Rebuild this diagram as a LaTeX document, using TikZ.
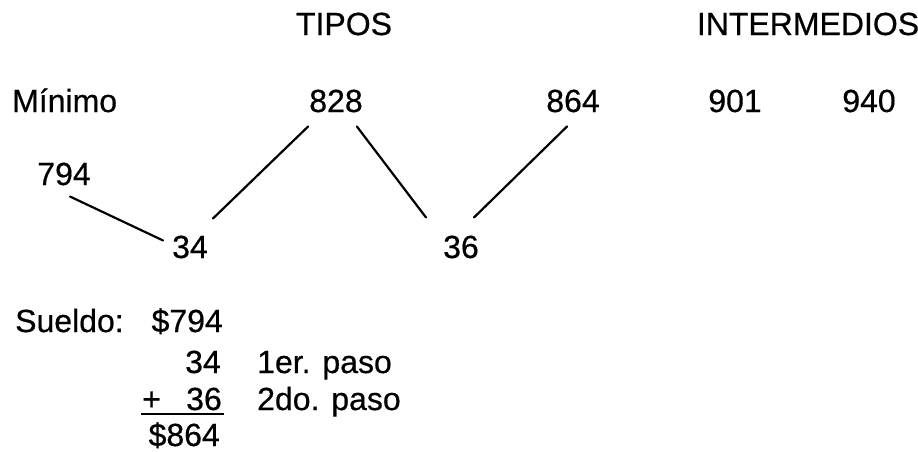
\documentclass[tikz,border=0pt]{standalone}
\usepackage{fontspec}
\setmainfont[FakeBold=0.5]{Liberation Sans}
\newcommand{\lblfont}{\fontsize{32}{38}\selectfont}
\begin{document}
\begin{tikzpicture}[x=1pt,y=-1pt,
  every node/.style={inner sep=0pt, font=\lblfont},
  link/.style={line width=2.2pt, line cap=round}]
\useasboundingbox (0,0) rectangle (918,451);

% column headings
\node[anchor=base] (tipos) at (344,35) {TIPOS};
\node[anchor=base] (inter) at (808,35) {INTERMEDIOS};

% scale of salaries
\node[anchor=base west] (minimo) at (12,112) {Mínimo};
\node[anchor=base] (a828) at (336,112) {828};
\node[anchor=base] (a864) at (573,112) {864};
\node[anchor=base] (a901) at (735,112) {901};
\node[anchor=base] (a940) at (869,112) {940};
\node[anchor=base] (a794) at (64,185) {794};

% step differences
\node[anchor=base] (s34) at (190,258) {34};
\node[anchor=base] (s36) at (461,258) {36};

% zig-zag connectors
\draw[link] ([xshift=6pt,yshift=-11pt]a794.south) -- ([xshift=-9pt,yshift=-5pt]s34.north west);
\draw[link] ([xshift=5pt,yshift=17pt]s34.north east) -- ([xshift=-1pt,yshift=-14pt]a828.south west);
\draw[link] ([xshift=-6pt,yshift=-14pt]a828.south east) -- ([xshift=-17pt,yshift=18pt]s36.north west);
\draw[link] ([xshift=-5pt,yshift=18pt]s36.north east) -- ([xshift=-6pt,yshift=-14pt]a864.south);

% worked sum
\node[anchor=base west] (sueldo) at (15,332) {Sueldo:};
\node[anchor=base east] (v794) at (223,332) {\$794};
\node[anchor=base east] (v34) at (221,373) {34};
\node[anchor=base west] (paso1) at (257,373) {1er. paso};
\node[anchor=base west] (plus) at (142,410) {+};
\node[anchor=base east] (v36) at (222,410) {36};
\node[anchor=base west] (paso2) at (257,410) {2do. paso};
\node[anchor=base east] (v864) at (220,446) {\$864};

% sum rule
\draw[line width=1.8pt] ([xshift=-1pt,yshift=-4pt]plus.base west) -- ([xshift=2pt,yshift=-4pt]v36.base east);
\end{tikzpicture}
\end{document}
